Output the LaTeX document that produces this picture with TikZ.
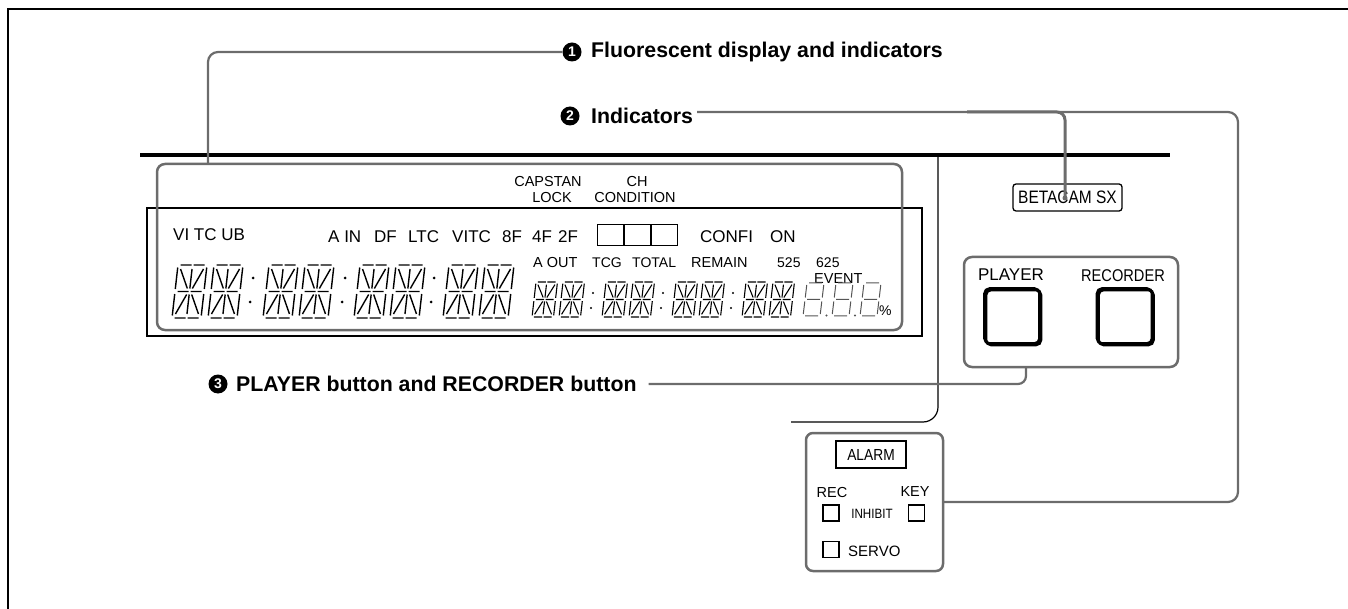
\documentclass[tikz,border=0pt]{standalone}
\usepackage{fontspec}
\setmainfont{Liberation Sans}
\newfontfamily\condfont[FakeStretch=0.86]{Liberation Sans}
\newcommand\setfs[1]{\fontsize{#1pt}{#1pt}\selectfont}
\definecolor{leadgray}{RGB}{108,108,108}
\definecolor{seggray}{RGB}{85,85,85}

% 14-segment (starburst) cell, 29 x 53 units, all segments lit
\newcommand\starsegs{%
  \draw (2.5,0)--(13.5,0) (15.5,0)--(26.5,0)
        (2.5,26.5)--(13.5,26.5) (15.5,26.5)--(26.5,26.5)
        (2.5,53)--(13.5,53) (15.5,53)--(26.5,53)
        (0,2.5)--(0,24) (0,29)--(0,50.5)
        (29,2.5)--(29,24) (29,29)--(29,50.5)
        (14.5,4)--(14.5,23.5) (14.5,29.5)--(14.5,49)
        (3,4)--(12,23.5) (26,4)--(17,23.5)
        (12,29.5)--(3,49) (17,29.5)--(26,49);}
\newcommand\bigdigit[1]{\begin{scope}[shift={(#1,265)},xslant=0.113,line width=1.4pt]\starsegs\end{scope}}
\newcommand\smalldigit[1]{\begin{scope}[shift={(#1,282)},xslant=0.113,xscale=0.74,yscale=0.66,line width=1.1pt]\starsegs\end{scope}}
% 7-segment cell, 17 x 33 units
\newcommand\sevensegs{%
  \draw (2,0)--(15,0) (2,16.5)--(15,16.5) (2,33)--(15,33)
        (0,2)--(0,14.5) (0,18.5)--(0,31) (17,2)--(17,14.5) (17,18.5)--(17,31);}
\newcommand\sevendigit[1]{\begin{scope}[shift={(#1,283)},xslant=0.12,draw=seggray,line width=1pt]\sevensegs\end{scope}}

\begin{document}
\begin{tikzpicture}[x=1pt,y=-1pt,
  leader/.style={draw=leadgray,line width=2.2pt},
  panel/.style={draw=leadgray,line width=2.5pt,rounded corners=8pt,inner sep=0pt,outer sep=0pt,anchor=north west},
  btn/.style={draw,line width=2.6pt,rounded corners=5pt,minimum width=55pt,minimum height=55pt,inner sep=0pt,
    preaction={draw,line width=2.6pt,transform canvas={shift={(1.5pt,-1.5pt)}}}},
  badge/.style={circle,fill=black,text=white,font=\bfseries\setfs{14},minimum size=19pt,inner sep=0pt},
  lab/.style={font=\bfseries\setfs{21.3},inner sep=0pt,anchor=west},
  dt/.style={inner sep=0pt,anchor=west,font=\setfs{17}},
  ds/.style={inner sep=0pt,anchor=west,font=\setfs{14.5}},
  dc/.style={inner sep=0pt,font=\setfs{14.5}},
  lamp/.style={draw,line width=1.2pt,minimum width=16pt,minimum height=16pt,inner sep=0pt},
  chbox/.style={draw,line width=1.3pt,minimum width=26pt,minimum height=21pt,inner sep=0pt,anchor=north west}]
\useasboundingbox (0,0) rectangle (1348,609);

% page frame
\draw[line width=1.6pt] (1348,9) -- (8,9) -- (8,609);

% front edge of the deck
\draw[line width=4pt] (140,155) -- (1170,155);

% display window and fluorescent panel
\draw[line width=1.3pt] (147,208) rectangle (922,336);
\node[panel,minimum width=745pt,minimum height=166pt] (disp) at (157,164) {};

% outline of the control block
\draw[line width=1.2pt,rounded corners=15pt] (938,157) -- (938,422) -- (791,422);

% indicator captions
\node[dc] (cap1) at (548,182) {CAPSTAN};
\node[dc] (cap2) at (552,198) {LOCK};
\node[dc] (ch1) at (637,182) {CH};
\node[dc] (ch2) at (635,198) {CONDITION};

\node[dt] (vitc) at (173,235) {VI TC UB};
\node[dt] (ain) at (328,237) {A IN};
\node[dt] (df) at (374,237) {DF};
\node[dt] (ltc) at (408,237) {LTC};
\node[dt] (vitc2) at (452,237) {VITC};
\node[dt] (f8) at (502,237) {8F};
\node[dt] (f4) at (532,237) {4F};
\node[dt] (f2) at (558,237) {2F};
\node[chbox] (chA) at (597,224) {};
\node[chbox] (chB) at (624,224) {};
\node[chbox] (chC) at (651,224) {};
\node[dt] (confi) at (700,237) {CONFI};
\node[dt] (on) at (770,237) {ON};

\node[ds] (aout) at (533,263) {A OUT};
\node[ds,font=\setfs{14}] (tcg) at (592,263) {TCG};
\node[ds,font=\setfs{14}] (total) at (632,263) {TOTAL};
\node[ds] (remain) at (691,263) {REMAIN};
\node[ds,font=\setfs{14}] (s525) at (777,263) {525};
\node[ds,font=\setfs{14}] (s625) at (816,263) {625};
\node[ds] (event) at (814,279) {EVENT};
\node[ds,font=\setfs{14}] (pct) at (879,311) {\%};

% time code digits
\foreach \x in {178,214,269,305,360,396,449,485} {\bigdigit{\x}}
\foreach \x in {251,343,432} {\fill (\x+2,278) circle (1.5pt); \fill (\x-1,302) circle (1.5pt);}
\foreach \x in {536,563,606,633,676,703,746,773} {\smalldigit{\x}}
\foreach \x in {592,662,732} {\fill (\x+1,293) circle (1.2pt); \fill (\x-1,308) circle (1.2pt);}
\foreach \x in {807,836,864} {\sevendigit{\x}}
\fill[seggray] (826.5,315.5) circle (1.1pt) (855,315.5) circle (1.1pt);

% format badge
\node[draw,line width=1.3pt,rounded corners=3pt,minimum width=109pt,minimum height=27pt,inner sep=0pt,
  font=\condfont\setfs{18}] (beta) at (1067.5,197.5) {BETACAM SX};

% PLAYER / RECORDER selector
\node[panel,minimum width=214pt,minimum height=110pt] (prbox) at (964,257) {};
\node[inner sep=0pt,font=\setfs{17}] (plab) at (1011,275) {PLAYER};
\node[inner sep=0pt,font=\condfont\setfs{17}] (rlab) at (1123,276) {RECORDER};
\node[btn] (pbtn) at (1012,316) {};
\node[btn] (rbtn) at (1124.5,316) {};

% alarm indicator block
\node[panel,minimum width=137pt,minimum height=138pt,rounded corners=7pt] (alarm) at (806,433) {};
\node[draw,line width=1.5pt,minimum width=70pt,minimum height=27pt,inner sep=0pt,
  font=\condfont\setfs{16}] (alm) at (871,454.5) {ALARM};
\node[dc] (rec) at (832,493) {REC};
\node[dc] (key) at (915,492) {KEY};
\node[lamp] (recl) at (831,513) {};
\node[inner sep=0pt,font=\condfont\setfs{13.5}] (inh) at (872,514) {INHIBIT};
\node[lamp] (keyl) at (916.5,513) {};
\node[lamp] (servol) at (831,549.5) {};
\node[ds,font=\setfs{15}] (servo) at (848,551) {SERVO};

% callouts
\node[badge] (n1) at (572,52) {1};
\node[lab] (t1) at (591,52) {Fluorescent display and indicators};
\coordinate (d1) at (208,164);
\draw[leader,rounded corners=10pt] (n1.west) -| (d1);

\node[badge] (n2) at (570,116) {2};
\node[lab] (t2) at (591,116) {Indicators};
\draw[leader,rounded corners=10pt] ([shift={(4pt,4pt)}]t2.east) -| (1238,300) |- (alarm.east);
\coordinate (b0) at (967,112);
\coordinate (bdot) at (1065,198);
\draw[leader,line width=3pt,rounded corners=8pt] (b0) -| (bdot);
\fill[leadgray] (bdot) circle (2.5pt);

\node[badge] (n3) at (218,384) {3};
\node[lab] (t3) at (236,384) {PLAYER button and RECORDER button};
\coordinate (p3) at (1026,367);
\draw[leader,rounded corners=8pt] ([xshift=12pt]t3.east) -| (p3);
\end{tikzpicture}
\end{document}
